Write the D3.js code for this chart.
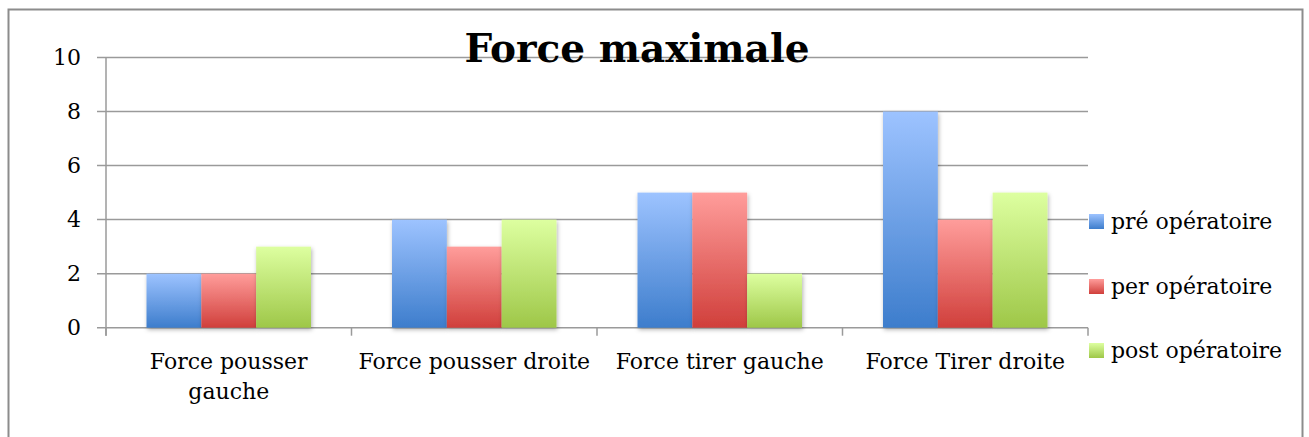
<!DOCTYPE html>
<html>
<head>
<meta charset="utf-8">
<script src="https://cdn.jsdelivr.net/npm/d3@7"></script>
<style>
  body { margin: 0; background: #fff; }
  svg text { font-family: "DejaVu Serif", serif; fill: #000; }
</style>
</head>
<body>
<div class="chart"></div>
<script>
var categories = ["Force pousser gauche", "Force pousser droite", "Force tirer gauche", "Force Tirer droite"];
var seriesNames = ["pré opératoire", "per opératoire", "post opératoire"];
var pre = [2, 4, 5, 8];
var per = [2, 3, 5, 4];
var post = [3, 4, 2, 5];
var yTicks = [0, 2, 4, 6, 8, 10];

var series = [pre, per, post];
// gradient top / bottom for each series
var colors = [["#9dc3ff", "#3d7dcc"], ["#ff9d9b", "#d03f3b"], ["#ddffa0", "#9ec748"]];

var width = 1309, height = 437;
var plotLeft = 106, plotRight = 1088, plotTop = 57.5, plotBottom = 327.7;

var svg = d3.select(".chart").append("svg").attr("width", width).attr("height", height);

var defs = svg.append("defs");
colors.forEach(function(c, i) {
  var g = defs.append("linearGradient").attr("id", "grad" + i)
    .attr("x1", 0).attr("y1", 0).attr("x2", 0).attr("y2", 1);
  g.append("stop").attr("offset", "0%").attr("stop-color", c[0]);
  g.append("stop").attr("offset", "100%").attr("stop-color", c[1]);
});
var f = defs.append("filter").attr("id", "shadow").attr("x", "-20%").attr("y", "-20%").attr("width", "140%").attr("height", "140%");
f.append("feDropShadow").attr("dx", 1).attr("dy", 2).attr("stdDeviation", 2).attr("flood-color", "#000").attr("flood-opacity", 0.3);

// outer frame
svg.append("rect").attr("x", 8.5).attr("y", 9.5).attr("width", 1294).attr("height", 440)
  .attr("fill", "none").attr("stroke", "#8c8c8c").attr("stroke-width", 2);

var x = d3.scaleBand().domain(categories).range([plotLeft, plotRight]).paddingInner(0.33).paddingOuter(0.165);
var xs = d3.scaleBand().domain(d3.range(series.length)).range([0, x.bandwidth()]);
var y = d3.scaleLinear().domain([0, 10]).range([plotBottom, plotTop]);

// grid lines
svg.append("g").selectAll("line").data(yTicks).enter().append("line")
  .attr("x1", plotLeft - 9).attr("x2", plotRight)
  .attr("y1", function(d) { return y(d); }).attr("y2", function(d) { return y(d); })
  .attr("stroke", "#9a9a9a").attr("stroke-width", 1.5);

// y axis line
svg.append("line").attr("x1", plotLeft).attr("x2", plotLeft).attr("y1", plotTop).attr("y2", plotBottom + 8)
  .attr("stroke", "#9a9a9a").attr("stroke-width", 1.5);

// category ticks
var outer = d3.scaleBand().domain(categories).range([plotLeft, plotRight]);
svg.append("g").selectAll("line").data(d3.range(categories.length + 1)).enter().append("line")
  .attr("x1", function(i) { return plotLeft + i * outer.step(); })
  .attr("x2", function(i) { return plotLeft + i * outer.step(); })
  .attr("y1", plotBottom).attr("y2", plotBottom + 8)
  .attr("stroke", "#9a9a9a").attr("stroke-width", 1.5);

// y labels
svg.append("g").selectAll("text").data(yTicks).enter().append("text")
  .attr("x", 81).attr("y", function(d) { return y(d); }).attr("dy", "0.35em")
  .attr("text-anchor", "end").style("font-size", "22px")
  .text(function(d) { return d; });

// bars
series.forEach(function(s, si) {
  svg.append("g").selectAll("rect").data(s).enter().append("rect")
    .attr("x", function(d, i) { return x(categories[i]) + xs(si); })
    .attr("y", function(d) { return y(d); })
    .attr("width", xs.bandwidth())
    .attr("height", function(d) { return y(0) - y(d); })
    .attr("fill", "url(#grad" + si + ")")
    .attr("filter", "url(#shadow)");
});

// category labels
var wraps = { "Force pousser gauche": ["Force pousser", "gauche"] };
categories.forEach(function(c) {
  var lines = wraps[c] || [c];
  var t = svg.append("text").attr("text-anchor", "middle").style("font-size", "22px")
    .attr("x", outer(c) + outer.bandwidth() / 2).attr("y", 369);
  lines.forEach(function(l, i) {
    t.append("tspan").attr("x", outer(c) + outer.bandwidth() / 2).attr("dy", i ? 30 : 0).text(l);
  });
});

// legend
var legY = [221, 286, 350];
seriesNames.forEach(function(n, i) {
  svg.append("rect").attr("x", 1089).attr("y", legY[i] - 7).attr("width", 15).attr("height", 15)
    .attr("fill", "url(#grad" + i + ")");
  svg.append("text").attr("x", 1111).attr("y", legY[i]).attr("dy", "0.35em")
    .style("font-size", "22px").text(n);
});

// title
svg.append("text").attr("x", 637).attr("y", 62).attr("text-anchor", "middle")
  .style("font-size", "39px").style("font-weight", "bold").text("Force maximale");
</script>
</body>
</html>
